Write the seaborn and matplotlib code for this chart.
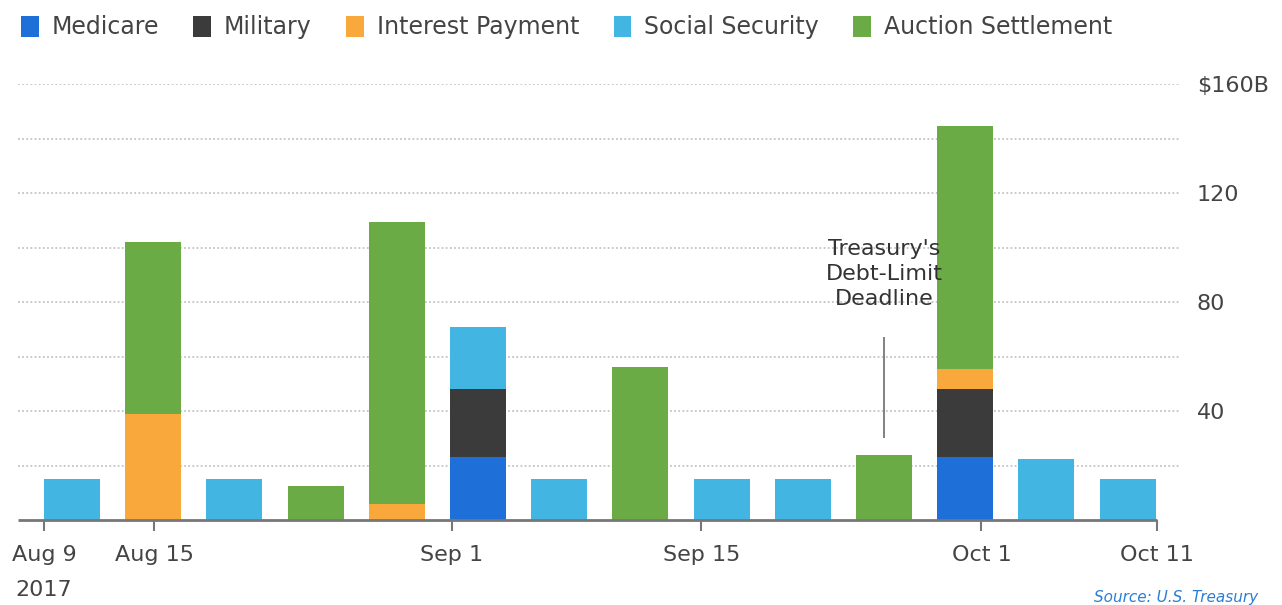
import numpy as np
import pandas as pd
import matplotlib.pyplot as plt
from matplotlib.patches import Patch
import seaborn as sns

# payment categories, in stacking order (bottom to top)
categories = ['Medicare', 'Military', 'Interest Payment', 'Social Security', 'Auction Settlement']
colors = ['#1f6fd8', '#3b3b3b', '#f9a83b', '#42b5e2', '#6aab45']

# one bar per big payment day, Aug 10 .. Oct 9 ($ billions)
medicare = [0, 0, 0, 0, 0, 23, 0, 0, 0, 0, 0, 23, 0, 0]
military = [0, 0, 0, 0, 0, 25, 0, 0, 0, 0, 0, 25, 0, 0]
interest = [0, 39, 0, 0, 6, 0, 0, 0, 0, 0, 0, 7.5, 0, 0]
social = [15, 0, 15, 0, 0, 23, 15, 0, 15, 15, 0, 0, 22.5, 15]
auction = [0, 63, 0, 12.5, 103.5, 0, 0, 56, 0, 0, 24, 89, 0, 0]

days = list(range(len(medicare)))

# date ticks, positioned between the bars
tick_labels = ['Aug 9\n2017', 'Aug 15', 'Sep 1', 'Sep 15', 'Oct 1', 'Oct 11']
tick_pos = [-0.345, 1.01, 4.68, 7.75, 11.2, 13.36]

y_ticks = [20, 40, 60, 80, 100, 120, 140, 160]
y_labels = ['', '40', '', '80', '', '120', '', '\\$160B']

deadline_bar = 10

sns.set_theme(style='white')
plt.rcParams['font.family'] = ['DejaVu Sans']

fig = plt.figure(figsize=(12.82, 6.05), dpi=100)
ax = fig.add_axes([18 / 1282, 1 - 520 / 605, (1180 - 18) / 1282, (520 - 84) / 605])

stack = np.cumsum(np.array([medicare, military, interest, social, auction]), axis=0)
for i in reversed(range(len(categories))):
    sns.barplot(x=days, y=stack[i], color=colors[i], width=0.69, saturation=1,
                errorbar=None, linewidth=0, ax=ax, zorder=2)

ax.set_xlim(-0.665, 13.645)
ax.set_ylim(0, 160)
ax.set_xlabel('')
ax.set_ylabel('')
for s in ax.spines.values():
    s.set_visible(False)

ax.yaxis.tick_right()
ax.set_yticks(y_ticks, y_labels)
ax.yaxis.grid(True, color='#c4c4c4', linestyle=(0, (1, 1.3)), linewidth=1.3, zorder=0)
ax.xaxis.grid(False)
ax.set_axisbelow(True)
ax.tick_params(axis='y', length=0, pad=12, labelsize=16, labelcolor='#444444')

ax.set_xticks(tick_pos, tick_labels)
ax.tick_params(axis='x', direction='out', bottom=True, length=8, width=1.5, color='#777777',
               pad=10, labelsize=16, labelcolor='#444444')
for lab in ax.get_xticklabels():
    lab.set_linespacing(1.95)

# baseline
ax.hlines(0, ax.get_xlim()[0], tick_pos[-1], color='#777777', linewidth=2, zorder=3, clip_on=False)

# debt-limit annotation
ax.vlines(deadline_bar, 30, 67, color='#777777', linewidth=1.3, zorder=3)
ax.text(deadline_bar, 77.5, "Treasury's\nDebt-Limit\nDeadline", ha='center', va='bottom',
        fontsize=16, color='#333333', linespacing=1.3, zorder=5)

handles = [Patch(facecolor=c, edgecolor='none') for c in colors]
fig.legend(handles, categories, loc='upper left', bbox_to_anchor=(0.009, 0.99), ncol=5,
           frameon=False, fontsize=17, handlelength=0.75, handleheight=0.95,
           handletextpad=0.55, columnspacing=1.45, borderaxespad=0, labelcolor='#444444')

fig.text(0.853, 0.025, 'Source: U.S. Treasury', ha='left', va='top', fontsize=11,
         color='#2a7fd4', style='italic')

fig.savefig('out.png', dpi=100)
